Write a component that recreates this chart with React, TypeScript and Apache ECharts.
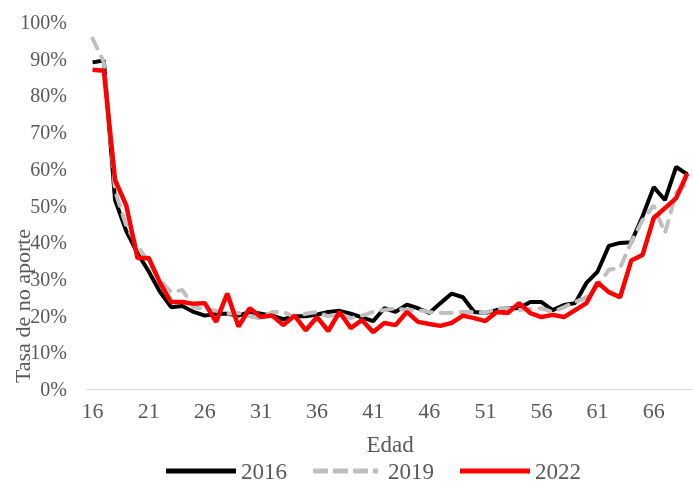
import React, { useEffect, useRef } from "react";
import * as echarts from "echarts";

const ages: string[] = [];
for (let a = 16; a <= 69; a++) ages.push(String(a));

const s2016 = [89, 89.5, 51.5, 43, 37, 32, 26.5, 22.3, 22.6, 21, 20, 20.5, 20.5, 20, 21, 20.5, 20, 19, 19.8, 19.8, 20.3, 21, 21.3, 20.5, 19.5, 18.5, 22, 21, 23, 22, 20.7, 23.4, 26, 25, 21, 20.7, 21.5, 22, 22, 23.7, 23.7, 21.5, 22.9, 23.4, 28.9, 32, 39, 39.8, 40, 47, 55, 51.5, 60.5, 58.5];
const s2019 = [95.5, 89, 54, 44.5, 39, 34.5, 29.7, 26.4, 27, 22.3, 21.8, 21.3, 20.5, 20.7, 19.8, 19.2, 21, 21, 19.6, 20.5, 21, 19.8, 20.5, 19.3, 20, 21, 21.5, 22, 21.5, 21.5, 21, 20.7, 20.8, 21, 21, 20.7, 22, 22, 21.5, 21.8, 22, 21, 22.3, 23.7, 25, 28, 32.5, 33, 40, 46, 50, 42.5, 53.5, 56];
const s2022 = [87, 86.7, 57, 50, 35.7, 35.7, 29, 23.7, 23.7, 23.2, 23.4, 18.3, 26, 17, 22, 19.6, 20, 17.4, 20, 16, 19.6, 15.8, 21, 16.6, 18.8, 15.5, 18, 17.4, 21, 18.3, 17.7, 17.2, 18, 20, 19.3, 18.5, 21, 20.7, 23.4, 20.7, 19.6, 20.2, 19.6, 21.5, 23.4, 29, 26.4, 25, 35, 36.5, 46.6, 49.3, 52, 58.8];

const FONT = "Liberation Serif";
const TXT = "#595959";
const DASH_ICON = "path://M0,0h15v5H0z M20,0h15v5H20z M40,0h15v5H40z M60,0h5v5H60z M70,0h0v5H70z";

export default function App() {
  const ref = useRef<HTMLDivElement>(null);
  useEffect(() => {
    if (!ref.current) return;
    const chart = echarts.init(ref.current, undefined, { renderer: "svg" });
    chart.setOption({
      animation: false,
      textStyle: { fontFamily: FONT },
      grid: { left: 87, right: 0, top: 22, bottom: 97, containLabel: false },
      legend: {
        left: 166,
        top: 458,
        padding: 0,
        itemWidth: 70,
        itemHeight: 5,
        itemGap: 26,
        textStyle: { fontFamily: FONT, fontSize: 23, color: TXT, lineHeight: 26 },
        data: [
          { name: "2016", icon: "rect" },
          { name: "2019", icon: DASH_ICON },
          { name: "2022", icon: "rect" },
        ],
      },
      xAxis: {
        type: "category",
        data: ages,
        boundaryGap: true,
        name: "Edad",
        nameLocation: "middle",
        nameGap: 44,
        nameTextStyle: { fontFamily: FONT, fontSize: 23, color: TXT },
        axisLine: { lineStyle: { color: "#d9d9d9", width: 1 } },
        axisTick: { interval: 49, length: 5, lineStyle: { color: "#d9d9d9" } },
        axisLabel: { interval: 4, margin: 10, fontFamily: FONT, fontSize: 22, color: TXT },
        splitLine: { show: false },
      },
      yAxis: {
        type: "value",
        min: 0,
        max: 100,
        interval: 10,
        axisLine: { show: false },
        axisTick: { show: false },
        splitLine: { show: false },
        axisLabel: { formatter: "{value}%", margin: 20, fontFamily: FONT, fontSize: 20, color: TXT },
      },
      graphic: [
        {
          type: "text",
          x: 22,
          y: 306,
          rotation: Math.PI / 2,
          style: {
            text: "Tasa de no aporte",
            fontFamily: FONT,
            fontSize: 22,
            fill: TXT,
            align: "center",
            verticalAlign: "middle",
          },
        },
      ],
      series: [
        {
          name: "2016",
          type: "line",
          data: s2016,
          symbol: "none",
          lineStyle: { color: "#000000", width: 4 },
          itemStyle: { color: "#000000" },
        },
        {
          name: "2019",
          type: "line",
          data: s2019,
          symbol: "none",
          lineStyle: { color: "#bfbfbf", width: 4, type: [11, 9], cap: "round" },
          itemStyle: { color: "#bfbfbf" },
        },
        {
          name: "2022",
          type: "line",
          data: s2022,
          symbol: "none",
          lineStyle: { color: "#ff0000", width: 4.5 },
          itemStyle: { color: "#ff0000" },
        },
      ],
    });
    return () => chart.dispose();
  }, []);
  return (
    <div
      ref={ref}
      style={{ position: "fixed", left: 0, top: 0, width: 693, height: 486 }}
    />
  );
}
